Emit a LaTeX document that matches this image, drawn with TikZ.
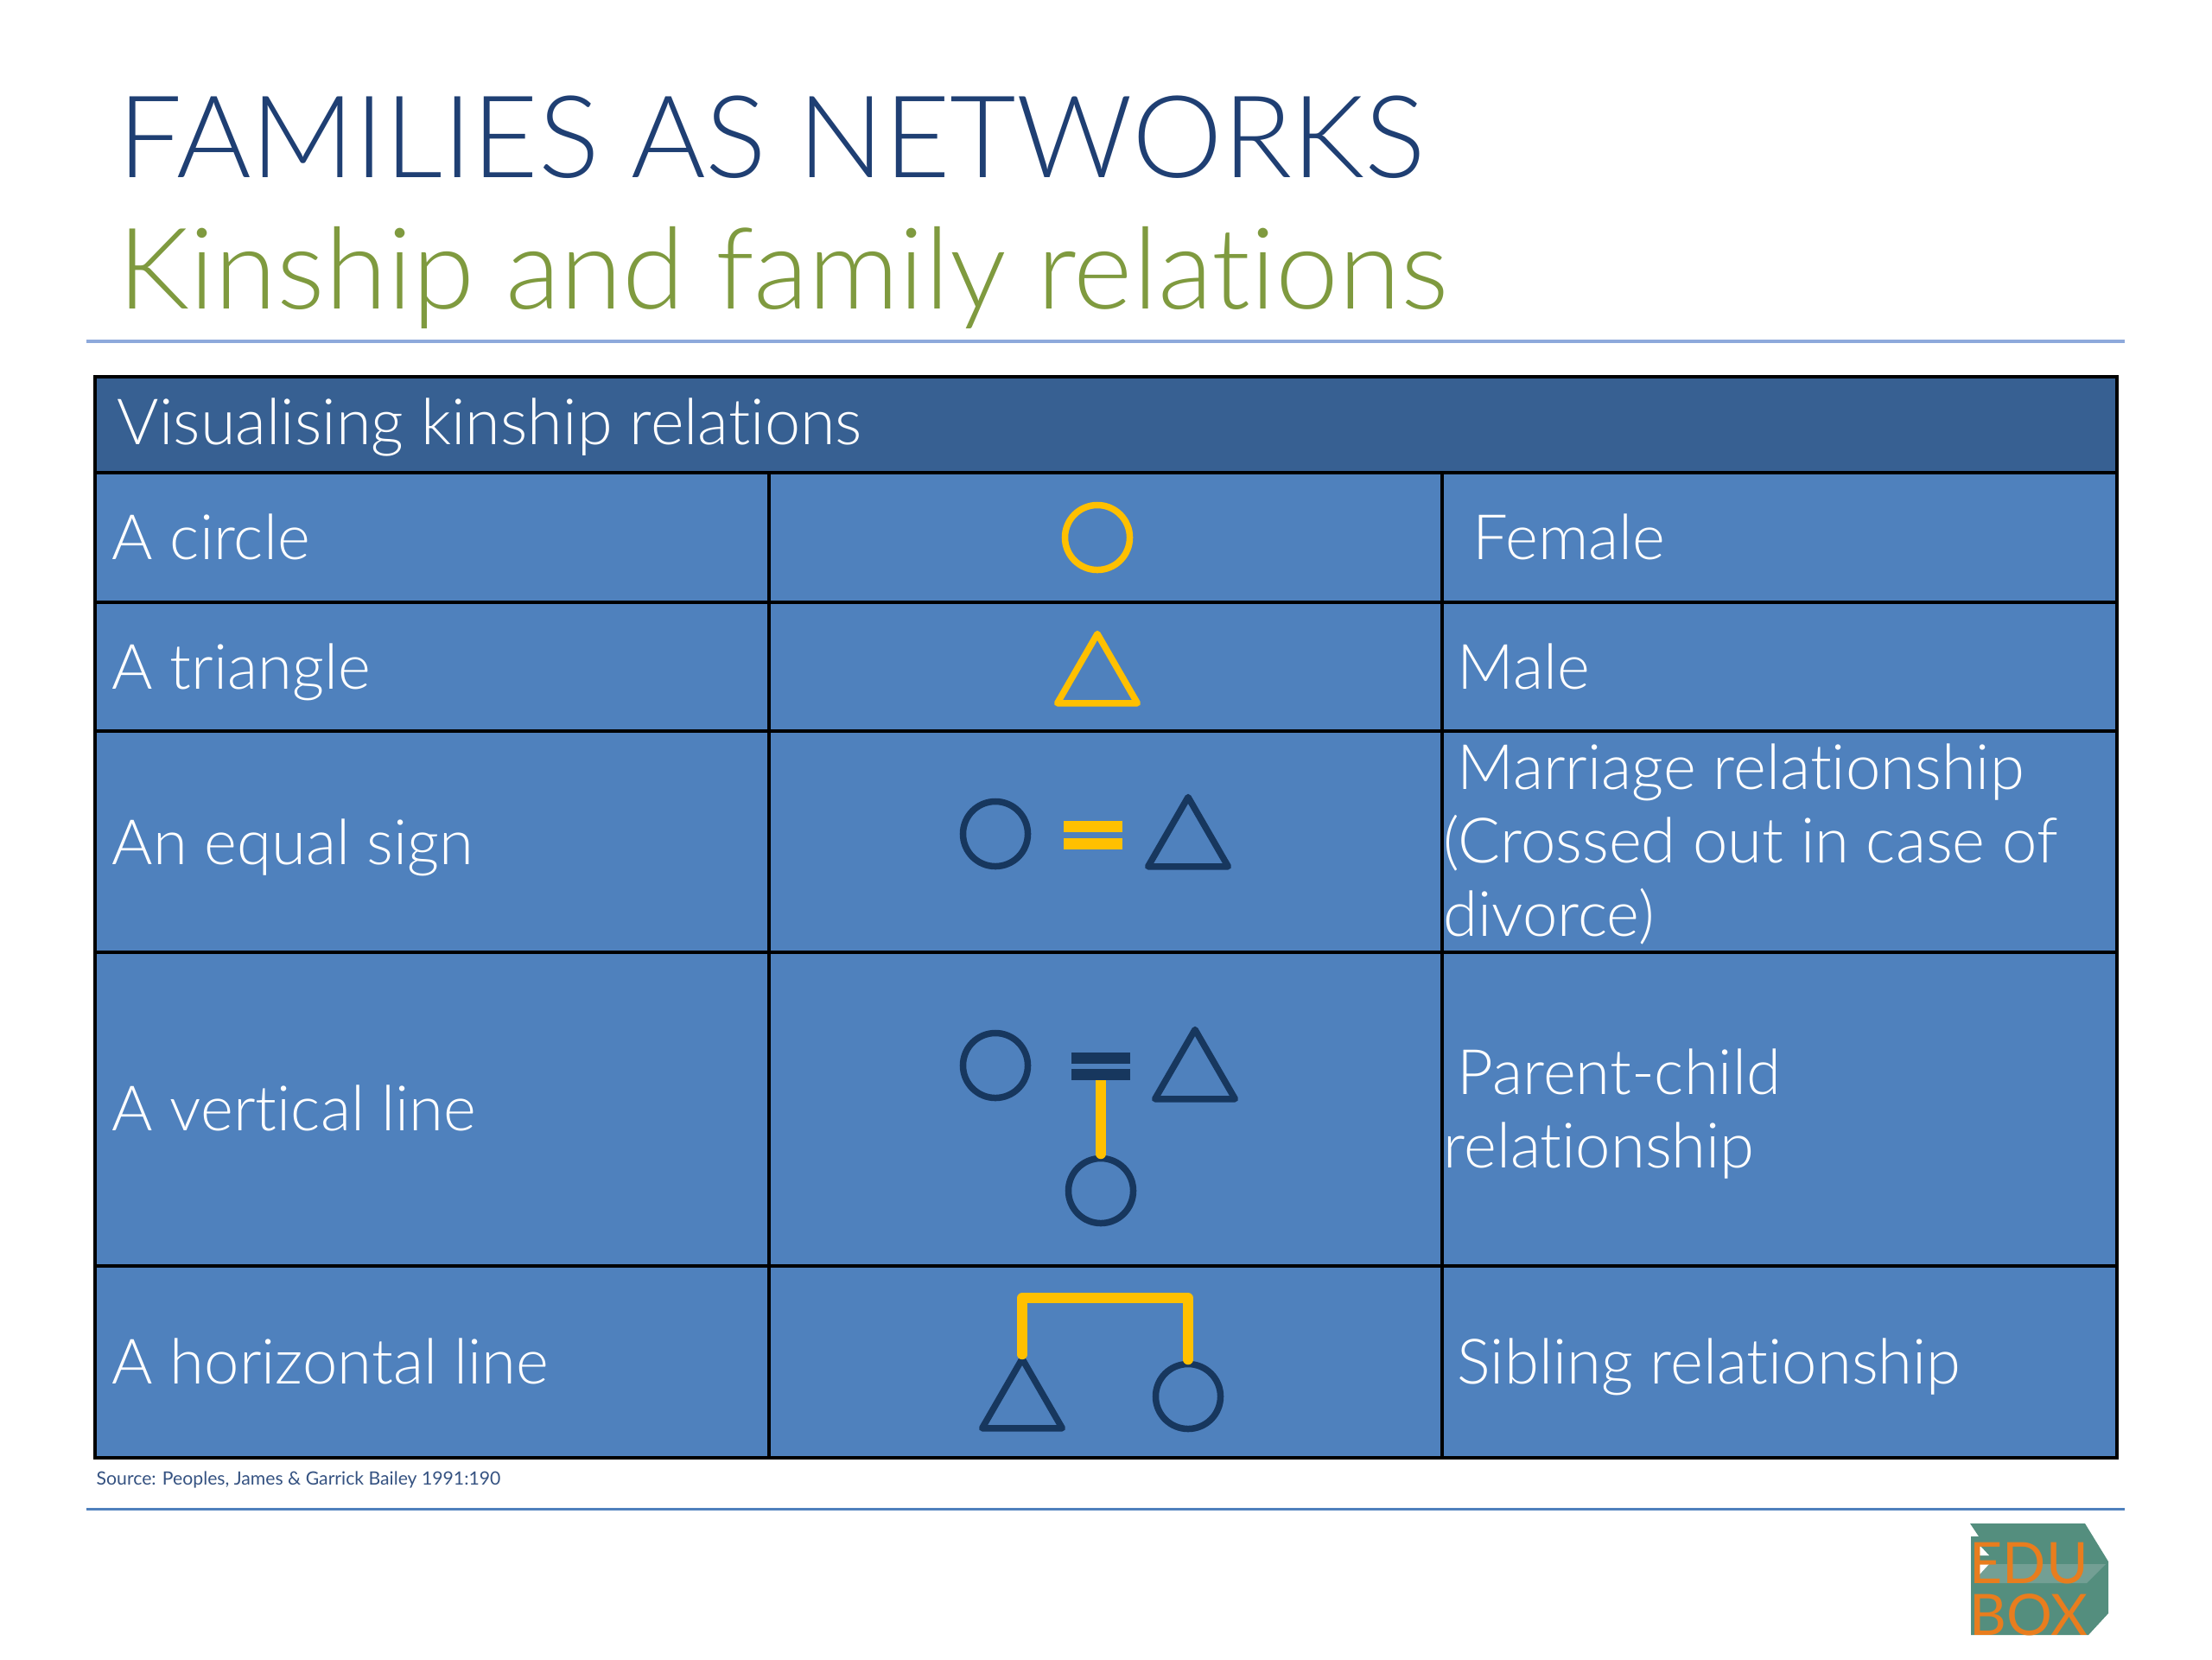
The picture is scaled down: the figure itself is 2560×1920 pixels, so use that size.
\documentclass[tikz,border=0pt]{standalone}
\usepackage{fontspec}
\usepackage{tikz}
\usetikzlibrary{shapes.geometric}
\setmainfont[Ligatures=NoCommon]{Lato Light}
\newfontfamily\logofont{Lato}

\definecolor{navy}{HTML}{1F3F73}
\definecolor{olive}{HTML}{7F9A3F}
\definecolor{cellblue}{HTML}{4F81BD}
\definecolor{headblue}{HTML}{376092}
\definecolor{amber}{HTML}{FFC000}
\definecolor{symdark}{HTML}{17375E}
\definecolor{rulelight}{HTML}{8EA9DB}
\definecolor{ruledark}{HTML}{4F81BD}
\definecolor{boxteal}{HTML}{548E7E}
\definecolor{boxband}{HTML}{739F94}
\definecolor{boxorange}{HTML}{E87D1E}

\tikzset{
  celltext/.style={anchor=base west,inner sep=0,text=white,font=\fontsize{20.6}{20.6}\selectfont},
  female/.style={circle,draw=#1,line width=0.075cm,minimum size=0.75cm,inner sep=0,outer sep=0},
  male/.style={regular polygon,regular polygon sides=3,draw=#1,line width=0.075cm,line join=round,minimum size=1.07cm,inner sep=0,outer sep=0},
  bar/.style={fill=#1,minimum width=0.68cm,minimum height=0.13cm,inner sep=0,outer sep=0},
  link/.style={amber,line width=0.115cm,line cap=round,line join=round}
}

\begin{document}
\begin{tikzpicture}[x=0.01cm,y=-0.01cm]
\useasboundingbox (0,0) rectangle (2560,1920);

\node[anchor=base west,inner sep=0,text=navy,font=\fontsize{37.6}{37.6}\selectfont] (title) at (136,205) {FAMILIES AS NETWORKS};
\node[anchor=base west,inner sep=0,text=olive,font=\fontsize{37.2}{37.2}\selectfont] (subtitle) at (136,357) {Kinship and family relations};
\draw[rulelight,line width=0.04cm] (100,395) -- (2459,395);

% table
\fill[cellblue] (110,436) rectangle (2450,1687);
\fill[headblue] (110,436) rectangle (2450,547);
\foreach \rowy in {547,697,846,1102,1465}
  \draw[black,line width=0.04cm] (110,\rowy) -- (2450,\rowy);
\foreach \colx in {890,1669}
  \draw[black,line width=0.04cm] (\colx,547) -- (\colx,1687);
\draw[black,line width=0.04cm] (110,436) rectangle (2450,1687);

\node[celltext] (head) at (135,514) {\fontsize{21}{21}\selectfont Visualising kinship relations};

\node[celltext] (l1) at (129,647) {A circle};
\node[celltext] (l2) at (129,797) {A triangle};
\node[celltext] (l3) at (129,1000) {An equal sign};
\node[celltext] (l4) at (129,1308) {A vertical line};
\node[celltext] (l5) at (129,1601) {A horizontal line};

\node[celltext] (r1) at (1704,647) {Female};
\node[celltext] (r2) at (1686,797) {Male};
\node[celltext] (r3a) at (1686,913) {Marriage relationship};
\node[celltext] (r3b) at (1670,998) {(Crossed out in case of};
\node[celltext] (r3c) at (1670,1083) {divorce)};
\node[celltext] (r4a) at (1686,1266) {Parent-child};
\node[celltext] (r4b) at (1670,1351) {relationship};
\node[celltext] (r5) at (1686,1601) {Sibling relationship};

% symbols
\node[female=amber] (circA) at (1270,622) {};
\node[male=amber] (triA) at (1270,787) {};

\node[female=symdark] (circB) at (1152,965) {};
\node[bar=amber] (eqBa) at (1265,956) {};
\node[bar=amber] (eqBb) at (1265,976) {};
\node[male=symdark] (triB) at (1375,976) {};

\node[female=symdark] (mum) at (1152,1233) {};
\node[male=symdark] (dad) at (1383,1245) {};
\node[female=symdark] (kid) at (1274,1378) {};
\coordinate (eqCfoot) at (1274,1243);
\draw[link] (eqCfoot) -- ([yshift=0.05cm]kid.north);
\node[bar=symdark] (eqCa) at (1274,1224) {};
\node[bar=symdark] (eqCb) at (eqCfoot) {};

\node[male=symdark] (bro) at (1183,1626) {};
\node[female=symdark] (sis) at (1375,1616) {};
\coordinate (sibtop) at (1280,1502);
\draw[link] ([yshift=0.05cm]bro.north) -- (bro.north |- sibtop) -- (sis.north |- sibtop) -- ([yshift=0.05cm]sis.north);

\node[anchor=base west,inner sep=0,text=navy!90,font=\logofont\fontsize{6.03}{6.03}\selectfont] (source) at (111,1718) {Source: Peoples, James \& Garrick Bailey 1991:190};
\draw[ruledark,line width=0.03cm] (100,1746) -- (2459,1746);

% logo
\fill[boxteal] (2280,1763) -- (2413,1763) -- (2440,1807) -- (2440,1867) -- (2417,1892) -- (2281,1892) -- (2281,1778) -- (2290,1778) -- cycle;
\fill[boxband] (2290,1810) -- (2437,1810) -- (2415,1832) -- (2290,1832) -- cycle;
\fill[white] (2290,1787) -- (2302,1800) -- (2290,1800) -- cycle;
\fill[white] (2290,1823) -- (2302,1810) -- (2290,1810) -- cycle;
\node[anchor=base west,inner sep=0,text=boxorange,font=\logofont\fontsize{18.8}{18.8}\selectfont] (edu) at (2279,1832) {EDU};
\node[anchor=base west,inner sep=0,text=boxorange,font=\logofont\fontsize{18.8}{18.8}\selectfont] (box) at (2279,1892) {BOX};
\end{tikzpicture}
\end{document}
